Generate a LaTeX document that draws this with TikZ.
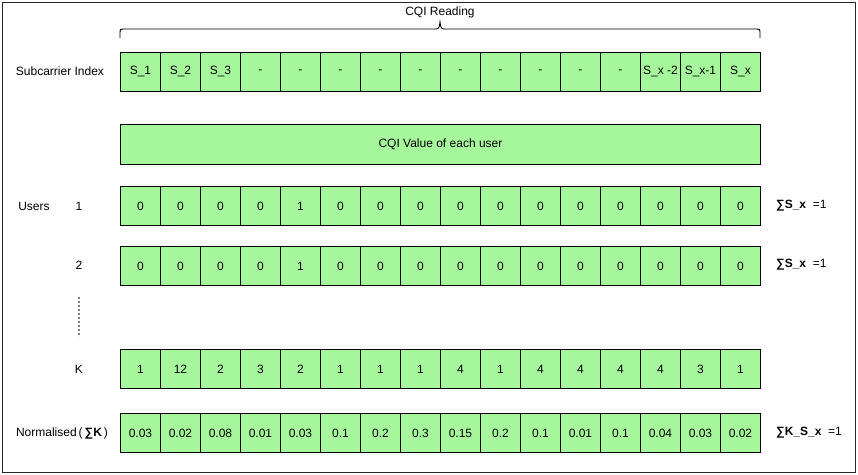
\documentclass[tikz,border=0pt]{standalone}
\usepackage{fontspec}
\setmainfont{Liberation Sans}
\definecolor{cellgreen}{HTML}{A6F79B}
\begin{document}
\begin{tikzpicture}[x=1pt,y=-1pt,
  every node/.style={font=\fontsize{12}{14}\selectfont, inner sep=0pt, text=black},
  cell/.style={draw=black, fill=cellgreen, minimum width=40pt, minimum height=39pt, line width=0.9pt, anchor=north west},
  widebox/.style={draw=black, fill=cellgreen, minimum width=640pt, minimum height=40pt, line width=0.9pt, anchor=north west},
  rlbl/.style={anchor=west},
  brace/.style={draw=black, line width=0.9pt}]
\useasboundingbox (0,0) rectangle (858,474);
\draw[line width=1pt, draw=black!85] (2,2) rectangle (855,472);

% title and brace
\node (title) at (440,12) {CQI Reading};
\draw[brace] (120,38) -- (120,34) .. controls (120,29) .. (125,29) -- (434,29)
  .. controls (439,29) .. (440,22) .. controls (441,29) .. (446,29) -- (755,29)
  .. controls (760,29) .. (760,34) -- (760,38);

% subcarrier row
\foreach \v [count=\i] in {S\_1,S\_2,S\_3,-,-,-,-,-,-,-,-,-,-,S\_x -2,S\_x-1,S\_x}
  \node[cell] (r0c\i) at ({120+40*(\i-1)},52) {\v};

% CQI value box
\node[widebox] (cqi) at (120,124) {CQI Value of each user};

% user 1
\foreach \v [count=\i] in {0,0,0,0,1,0,0,0,0,0,0,0,0,0,0,0}
  \node[cell] (r1c\i) at ({120+40*(\i-1)},186) {\v};
% user 2
\foreach \v [count=\i] in {0,0,0,0,1,0,0,0,0,0,0,0,0,0,0,0}
  \node[cell] (r2c\i) at ({120+40*(\i-1)},246) {\v};
% K
\foreach \v [count=\i] in {1,12,2,3,2,1,1,1,4,1,4,4,4,4,3,1}
  \node[cell] (r3c\i) at ({120+40*(\i-1)},349) {\v};
% normalised
\foreach \v [count=\i] in {0.03,0.02,0.08,0.01,0.03,0.1,0.2,0.3,0.15,0.2,0.1,0.01,0.1,0.04,0.03,0.02}
  \node[cell] (r4c\i) at ({120+40*(\i-1)},413) {\v};

% left labels
\node (lsub) at (60,71) {Subcarrier Index};
\node (lusers) at (34,206) {Users};
\node (l1) at (79,206) {1};
\node (l2) at (79,265) {2};
\node (lK) at (79,369) {K};
\node (lnorm) at (62,433) {Normalised\,(\,\textbf{∑K}\,)};

% dotted continuation
\coordinate (dA) at (79,297);
\coordinate (dB) at (79,337);
\draw[draw=gray, line width=1.2pt, dash pattern=on 2pt off 2pt] (dA) -- (dB);

% right labels
\node[rlbl] (s1) at (776,206) {\textbf{∑S\_x}\ \ =1};
\node[rlbl] (s2) at (776,265) {\textbf{∑S\_x}\ \ =1};
\node[rlbl] (s3) at (776,433) {\textbf{∑K\_S\_x}\ \ =1};
\end{tikzpicture}
\end{document}
